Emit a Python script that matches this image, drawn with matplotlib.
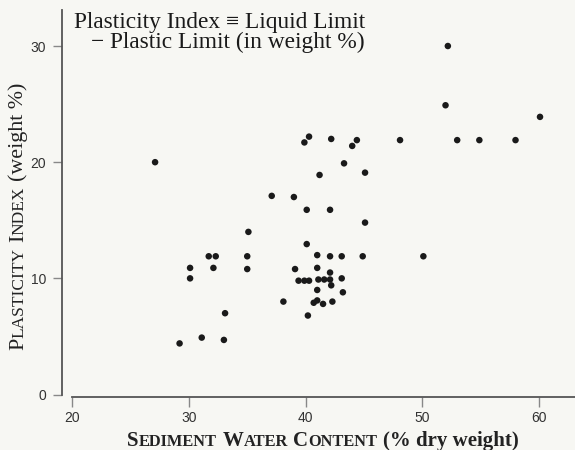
import matplotlib
matplotlib.use("Agg")
import matplotlib.pyplot as plt

# Sediment water content (% dry weight) and plasticity index (weight %)
water = [27.1, 29.2, 30.1, 30.1, 31.1, 31.7, 32.1, 32.3, 33.0, 33.1,
         35.1, 35.0, 35.0, 37.1, 38.1, 39.0, 39.1, 39.4, 39.9, 40.3,
         39.9, 40.3, 40.1, 40.1, 40.2, 40.7, 41.0, 41.5, 41.0, 41.0,
         41.1, 41.6, 42.1, 41.0, 41.2, 42.2, 42.1, 42.1, 42.1, 42.2,
         42.3, 43.1, 43.1, 43.2, 43.3, 44.0, 44.4, 44.9, 45.1, 45.1,
         48.1, 50.1, 52.2, 52.0, 53.0, 54.9, 58.0, 60.1]
plasticity = [20.0, 4.4, 10.9, 10.0, 4.9, 11.9, 10.9, 11.9, 4.7, 7.0,
              14.0, 11.9, 10.8, 17.1, 8.0, 17.0, 10.8, 9.8, 9.8, 9.8,
              21.7, 22.2, 15.9, 12.95, 6.8, 7.9, 8.1, 7.8, 12.0, 10.9,
              9.9, 9.9, 9.9, 9.0, 18.9, 22.0, 15.9, 11.9, 10.5, 9.4,
              8.0, 11.9, 10.0, 8.8, 19.9, 21.4, 21.9, 11.9, 19.1, 14.8,
              21.9, 11.9, 30.0, 24.9, 21.9, 21.9, 21.9, 23.9]

xticks = [20, 30, 40, 50, 60]
yticks = [0, 10, 20, 30]

W, H = 575, 450
bg = "#f7f7f3"
serif = ["Liberation Serif", "DejaVu Serif"]

fig = plt.figure(figsize=(W / 100, H / 100), dpi=100, facecolor=bg)
ax = fig.add_axes([62 / W, 53.5 / H, 1 - 62 / W, (396.5 - 10) / H])
ax.set_facecolor(bg)

ax.scatter(water, plasticity, s=22, color="#1a1a1a", edgecolors="none", zorder=3)

ax.set_xlim(19.12, 63.1)
ax.set_ylim(-0.17, 33.1)
ax.set_xticks(xticks)
ax.set_yticks(yticks)

for side in ["top", "right"]:
    ax.spines[side].set_visible(False)
ax.spines["left"].set_bounds(0, 33.1)
ax.spines["bottom"].set_bounds(20, 63.1)
for side in ["left", "bottom"]:
    ax.spines[side].set_color("#555555")
    ax.spines[side].set_linewidth(1.3)

ax.tick_params(axis="x", direction="out", length=7, width=1, color="#888888",
               labelsize=10, labelcolor="#333333", pad=3.5)
ax.tick_params(axis="y", direction="out", length=6.5, width=1, color="#888888",
               labelsize=10, labelcolor="#333333", pad=5)
for lab in ax.get_xticklabels() + ax.get_yticklabels():
    lab.set_family("Liberation Sans")

# definition text in the top-left corner
fig.text(365 / W, 1 - 27.7 / H, "Plasticity Index \u2261 Liquid Limit",
         family=serif, fontsize=16.8, ha="right", va="baseline", color="#1a1a1a")
fig.text(365 / W, 1 - 48.3 / H, "\u2212 Plastic Limit (in weight %)",
         family=serif, fontsize=16.8, ha="right", va="baseline", color="#1a1a1a")

renderer = fig.canvas.get_renderer()


def small_caps(pieces, x, y, vertical=False, center=False, **kw):
    # pieces: (text, size, gap after in points)
    texts = []
    widths = []
    for s, size, gap in pieces:
        t = fig.text(0, 0, s, fontsize=size, family=serif, ha="left", va="baseline",
                     rotation=90 if vertical else 0, rotation_mode="anchor", **kw)
        bb = t.get_window_extent(renderer)
        texts.append(t)
        widths.append((bb.height if vertical else bb.width) + gap * 100 / 72)
    if center:
        x -= sum(widths) / 2
    for t, w in zip(texts, widths):
        t.set_position((x / W, 1 - y / H))
        if vertical:
            y -= w
        else:
            x += w


B, S = 15, 11.8
small_caps([("S", B, 0), ("EDIMENT", S, 4), ("W", B, 0), ("ATER", S, 4),
            ("C", B, 0), ("ONTENT", S, 4), ("(% dry weight)", B, 0)],
           323, 446, center=True, weight="bold", color="#222222")

B2, S2 = 15.8, 12.5
small_caps([("P", B2, 0), ("LASTICITY", S2, 4), ("I", B2, 0), ("NDEX", S2, 4),
            ("(weight %)", B2, 0)],
           23, 350, vertical=True, color="#222222")

fig.savefig("out.png", dpi=100, facecolor=bg)
